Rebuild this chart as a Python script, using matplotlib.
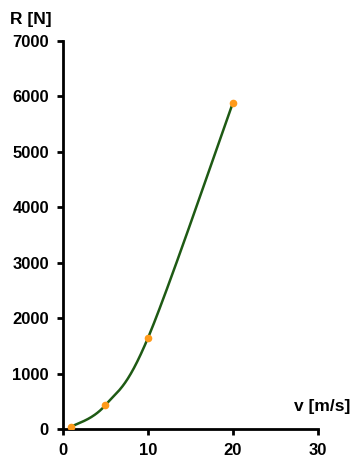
import numpy as np
import matplotlib
matplotlib.use("Agg")
import matplotlib.pyplot as plt

plt.rcParams['font.family'] = ['Liberation Sans', 'DejaVu Sans']

# measured resistance vs. speed
speed = [1, 5, 10, 20]
resistance = [40, 430, 1640, 5890]
x_ticks = [0, 10, 20, 30]
y_ticks = [0, 1000, 2000, 3000, 4000, 5000, 6000, 7000]


def smooth_curve(xs, ys, n=60):
    """Cubic Bezier smoothing through points (Catmull-Rom style)."""
    pts = np.column_stack([xs, ys]).astype(float)
    out = []
    for i in range(len(pts) - 1):
        p0 = pts[i - 1] if i > 0 else pts[i]
        p1 = pts[i]
        p2 = pts[i + 1]
        p3 = pts[i + 2] if i + 2 < len(pts) else pts[i + 1]
        c1 = p1 + (p2 - p0) / 6.0
        c2 = p2 - (p3 - p1) / 6.0
        t = np.linspace(0, 1, n)[:, None]
        seg = ((1 - t) ** 3) * p1 + 3 * ((1 - t) ** 2) * t * c1 \
            + 3 * (1 - t) * t ** 2 * c2 + t ** 3 * p2
        out.append(seg if i == 0 else seg[1:])
    seg = np.vstack(out)
    return seg[:, 0], seg[:, 1]


fig = plt.figure(figsize=(3.53, 4.59), dpi=100)
ax = fig.add_axes([0.178, 0.0654, 0.723, 0.8453])

cx, cy = smooth_curve(speed, resistance)
ax.plot(cx, cy, color='#1e5a14', lw=1.8, zorder=2)
ax.plot(speed, resistance, 'o', color='#ff9a1a', ms=5.5, mec='none', zorder=3)

ax.set_xlim(0, 30)
ax.set_ylim(0, 7000)
ax.set_xticks(x_ticks)
ax.set_yticks(y_ticks)
for s in ['top', 'right']:
    ax.spines[s].set_visible(False)
for s in ['left', 'bottom']:
    ax.spines[s].set_linewidth(2)
ax.tick_params(axis='both', direction='out', length=4, width=2,
               labelsize=12, pad=6)
for lbl in ax.get_xticklabels() + ax.get_yticklabels():
    lbl.set_fontweight('bold')

fig.text(0.028, 0.948, 'R [N]', ha='left', va='baseline',
         fontsize=12.5, fontweight='bold')
fig.text(0.992, 0.1046, 'v [m/s]', ha='right', va='baseline',
         fontsize=12.5, fontweight='bold')

fig.savefig('out.png', dpi=100)
